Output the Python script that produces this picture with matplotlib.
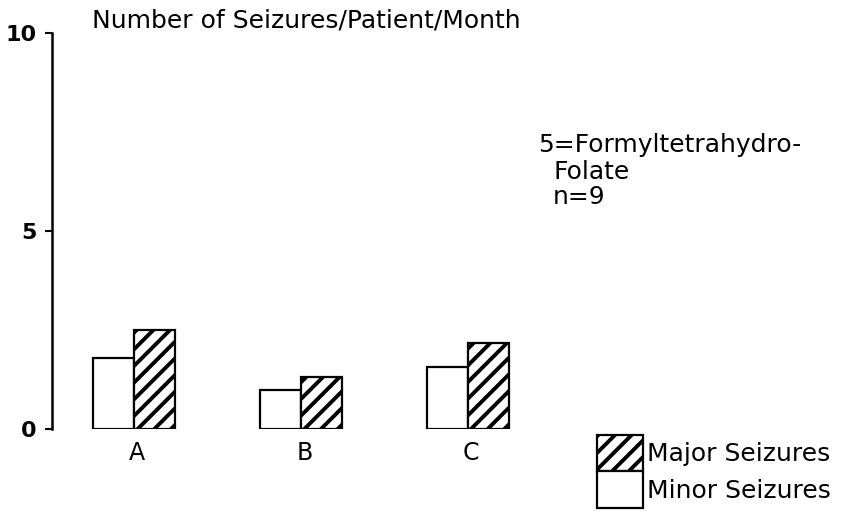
import matplotlib
matplotlib.use("Agg")
import matplotlib.pyplot as plt
import numpy as np

categories = ["A", "B", "C"]
minor = [1.8, 0.98, 1.57]
major = [2.5, 1.31, 2.17]
yticks = [0, 5, 10]

plt.rcParams['font.family'] = ['DejaVu Sans']
plt.rcParams['hatch.linewidth'] = 2.8

fig = plt.figure(figsize=(8.49, 5.12), dpi=100)
ax = fig.add_axes([52/849, 1 - 429/512, (600-52)/849, (429-33)/512])

x = np.arange(len(categories))
w = 0.245
b_min = ax.bar(x - w/2, minor, w, facecolor='white', edgecolor='black', linewidth=1.6, label='Minor Seizures')
b_maj = ax.bar(x + w/2, major, w, facecolor='white', edgecolor='black', linewidth=1.6, hatch='//', label='Major Seizures')

ax.set_ylim(0, 10)
ax.set_xlim(-0.49, 2.79)
ax.set_yticks(yticks)
ax.set_yticklabels([str(t) for t in yticks], fontsize=16, fontweight='bold')
ax.set_xticks(x + 0.02)
ax.set_xticklabels(categories, fontsize=17)
ax.tick_params(axis='y', direction='out', length=5, width=1.5, pad=6)
ax.tick_params(axis='x', length=0, pad=9)
for s in ['top', 'right', 'bottom']:
    ax.spines[s].set_visible(False)
ax.spines['left'].set_linewidth(1.8)

fs = 18
fig.text(92/849, 1 - 21/512, "Number of Seizures/Patient/Month", fontsize=fs, va='center', ha='left')
fig.text(538/849, 1 - 145/512, "5=Formyltetrahydro-", fontsize=fs, va='center', ha='left')
fig.text(553/849, 1 - 172/512, "Folate", fontsize=fs, va='center', ha='left')
fig.text(553/849, 1 - 197/512, "n=9", fontsize=fs, va='center', ha='left')

leg = fig.legend([b_maj, b_min], ['Major Seizures', 'Minor Seizures'],
                 loc='lower left', bbox_to_anchor=(597/849, 4/512),
                 frameon=False, fontsize=fs, handlelength=1.84, handleheight=1.88,
                 labelspacing=0.0, handletextpad=0.15, borderpad=0.0, borderaxespad=0.0)

fig.savefig("out.png", dpi=100)
